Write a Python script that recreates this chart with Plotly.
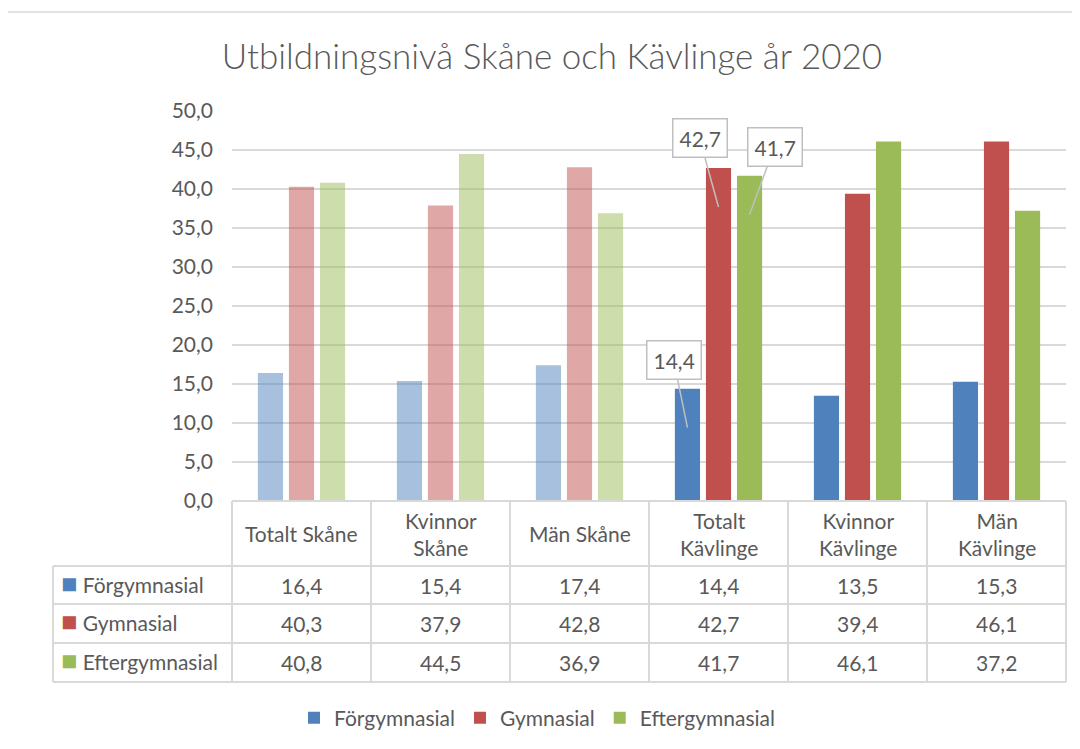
import plotly.graph_objects as go

# ---------------- data ----------------
categories = ["Totalt Skåne", "Kvinnor Skåne", "Män Skåne",
              "Totalt Kävlinge", "Kvinnor Kävlinge", "Män Kävlinge"]
header_labels = ["Totalt Skåne", "Kvinnor<br>Skåne", "Män Skåne",
                 "Totalt<br>Kävlinge", "Kvinnor<br>Kävlinge", "Män<br>Kävlinge"]
series_names = ["Förgymnasial", "Gymnasial", "Eftergymnasial"]
forgymnasial = [16.4, 15.4, 17.4, 14.4, 13.5, 15.3]
gymnasial = [40.3, 37.9, 42.8, 42.7, 39.4, 46.1]
eftergymnasial = [40.8, 44.5, 36.9, 41.7, 46.1, 37.2]
series_values = [forgymnasial, gymnasial, eftergymnasial]
title_text = "Utbildningsnivå Skåne och Kävlinge år 2020"
y_ticks = [0, 5, 10, 15, 20, 25, 30, 35, 40, 45, 50]

# ---------------- style ----------------
colors = ["#4F81BD", "#C0504D", "#9BBB59"]
opacity = [0.5, 0.5, 0.5, 1, 1, 1]  # Skåne bars are pale
FONT = "Lato"
TXT = "#595959"
GRID = "#D9D9D9"
FS = 21

W, H = 1080, 749
OFF = 8  # page body margin
# plot area in page pixels
PL, PR, PT, PB = 232, 1066, 111, 501


def px_x(p):
    return (p - PL) / (PR - PL)


def px_y(p):
    return (PB - p) / (PB - PT)


def fmt(v):
    return f"{v:.1f}".replace(".", ",")


fig = go.Figure()
for name, vals, col in zip(series_names, series_values, colors):
    fig.add_trace(go.Bar(
        name=name, x=categories, y=vals,
        marker=dict(color=col, opacity=opacity, line=dict(width=0)),
        hoverinfo="skip",
    ))

shapes = []
annotations = []
n = len(categories)

# table geometry (page pixels)
row_edges = [501, 566, 604, 643, 682]
label_left = 53
line = dict(color=GRID, width=2)

shapes.append(dict(type="line", xref="paper", yref="paper",
                   x0=0, x1=1, y0=px_y(row_edges[0]), y1=px_y(row_edges[0]), line=line))
for ry in row_edges[1:]:
    shapes.append(dict(type="line", xref="paper", yref="paper",
                       x0=px_x(label_left), x1=1, y0=px_y(ry), y1=px_y(ry), line=line))
for k in range(n + 1):
    shapes.append(dict(type="line", xref="paper", yref="paper",
                       x0=k / n, x1=k / n, y0=px_y(row_edges[0]), y1=px_y(row_edges[-1]), line=line))
shapes.append(dict(type="line", xref="paper", yref="paper",
                   x0=px_x(label_left), x1=px_x(label_left),
                   y0=px_y(row_edges[1]), y1=px_y(row_edges[-1]), line=line))

# outer chart frame
shapes.append(dict(type="rect", xref="paper", yref="paper",
                   x0=px_x(5), x1=px_x(1095), y0=px_y(12), y1=px_y(770),
                   line=dict(color=GRID, width=1.5), fillcolor="rgba(0,0,0,0)"))

# header labels
for c, lab in zip(categories, header_labels):
    annotations.append(dict(xref="x", yref="paper", x=c,
                            y=px_y((row_edges[0] + row_edges[1]) / 2),
                            text=lab, showarrow=False,
                            font=dict(family=FONT, size=FS, color=TXT),
                            xanchor="center", yanchor="middle"))

# rows
for i, (name, vals, col) in enumerate(zip(series_names, series_values, colors)):
    yc = px_y((row_edges[i + 1] + row_edges[i + 2]) / 2)
    annotations.append(dict(xref="paper", yref="paper", x=px_x(59), y=yc, yshift=3,
                            text=f"<span style='color:{col};font-size:27px'>■</span> {name}",
                            showarrow=False, xanchor="left", yanchor="middle",
                            font=dict(family=FONT, size=FS, color=TXT)))
    for c, v in zip(categories, vals):
        annotations.append(dict(xref="x", yref="paper", x=c, y=yc, text=fmt(v),
                                showarrow=False, xanchor="center", yanchor="middle",
                                font=dict(family=FONT, size=FS, color=TXT)))

# callouts on Totalt Kävlinge (series index, category index, xshift, ax, ay)
callouts = [(0, 3, -31, -14, -68), (1, 3, 0, -19, -69), (2, 3, 31, 25, -68)]
for si, ci, xs, ax, ay in callouts:
    annotations.append(dict(
        xref="x", yref="y", x=categories[ci], y=series_values[si][ci],
        xshift=xs, yshift=-39, ax=ax, ay=ay,
        text=fmt(series_values[si][ci]), showarrow=True,
        arrowhead=0, arrowwidth=1.5, arrowcolor="#BFBFBF",
        bgcolor="white", bordercolor="#BFBFBF", borderwidth=1.5, borderpad=6,
        font=dict(family=FONT, size=FS, color=TXT)))

fig.update_layout(
    width=W, height=H,
    margin=dict(l=PL - OFF, r=W - (PR - OFF), t=PT - OFF, b=H - (PB - OFF), autoexpand=False),
    paper_bgcolor="white", plot_bgcolor="white",
    separators=", ",
    barmode="group", bargap=0.33, bargroupgap=0.19,
    font=dict(family=FONT, color=TXT, size=FS),
    title=dict(text=title_text, x=(552 - OFF) / W, xanchor="center", xref="container",
               y=1 - (57 - OFF) / H, yanchor="middle", yref="container",
               font=dict(family=FONT, size=35, color=TXT, weight=300)),
    xaxis=dict(showticklabels=False, showgrid=False, showline=False, zeroline=False,
               ticks=""),
    yaxis=dict(range=[0, 50], tickvals=y_ticks, tickformat=".1f",
               showgrid=True, gridcolor=GRID, gridwidth=1.5, zeroline=False,
               showline=False, ticks="", ticklabelstandoff=18,
               tickfont=dict(family=FONT, size=FS, color=TXT)),
    legend=dict(orientation="h", x=px_x(294), xanchor="left", y=px_y(718),
                yanchor="middle", font=dict(family=FONT, size=FS, color=TXT),
                traceorder="normal", itemclick=False),
    shapes=shapes, annotations=annotations,
)

fig.write_html("out.html")
